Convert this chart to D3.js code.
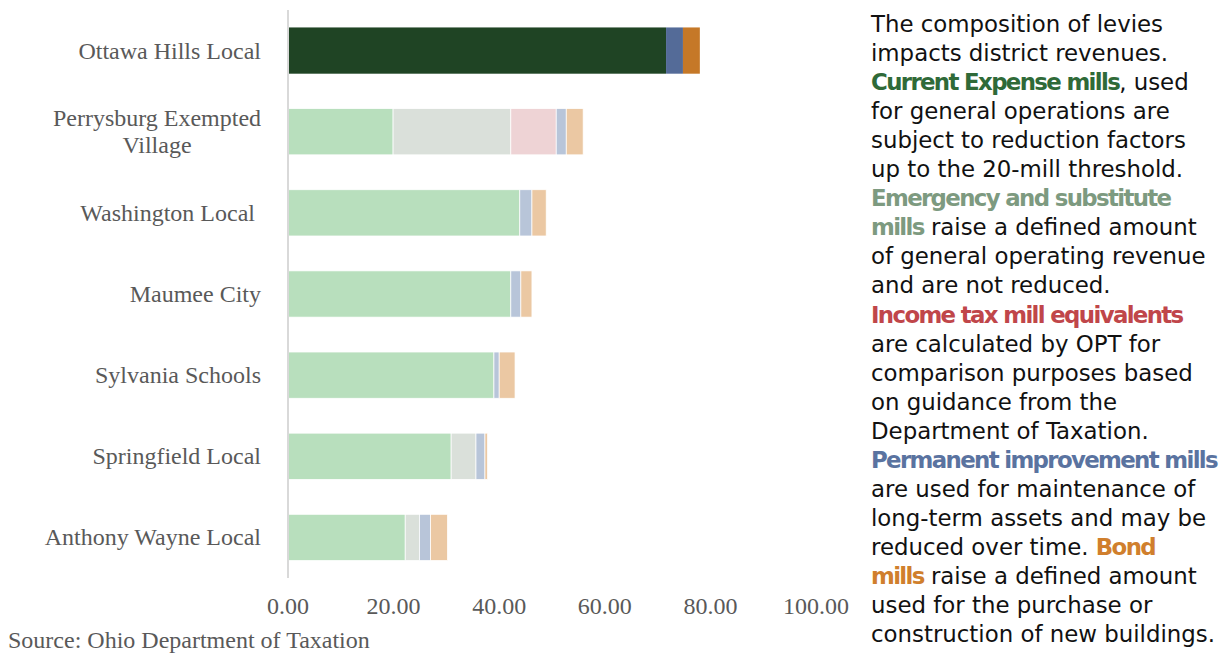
<!DOCTYPE html>
<html>
<head>
<meta charset="utf-8">
<script src="https://cdn.jsdelivr.net/npm/d3@7"></script>
<style>
  body { margin: 0; background: #fff; }
  svg text { white-space: pre; }
</style>
</head>
<body>
<div id="container"></div>
<script>
/* DATA */
const districts = ["Ottawa Hills Local", "Perrysburg Exempted Village", "Washington Local ", "Maumee City",
  "Sylvania Schools", "Springfield Local", "Anthony Wayne Local"]
const seriesNames = ["Current Expense", "Emergency and substitute", "Income tax equivalent", "Permanent improvement", "Bond"]
const currentExpense = [71.6, 19.9, 43.9, 42.2, 39.0, 30.9, 22.2]
const emergency      = [0, 22.3, 0, 0, 0, 4.7, 2.7]
const incomeTax      = [0, 8.6, 0, 0, 0, 0, 0]
const permanent      = [3.2, 1.9, 2.3, 1.9, 1.0, 1.7, 2.1]
const bond           = [3.2, 3.2, 2.7, 2.1, 3.0, 0.5, 3.2]
const xTicks = [0, 20, 40, 60, 80, 100]
const highlighted = "Ottawa Hills Local"

const strongColors = ["#1F4424", "#7D9A80", "#C0464A", "#546B98", "#C57828"]
const paleColors   = ["#B8DFBD", "#DAE0DA", "#EED3D5", "#B8C5D9", "#EBC8A3"]
const textColors   = ["#2F6A38", "#7D9A80", "#C0464A", "#5A73A0", "#D07F2D"]

// paragraph: each line is a list of [text, series index or -1]
const note = [
  [["The composition of levies", -1]],
  [["impacts district revenues.", -1]],
  [["Current Expense mills", 0], [", used", -1]],
  [["for general operations are", -1]],
  [["subject to reduction factors", -1]],
  [["up to the 20-mill threshold.", -1]],
  [["Emergency and substitute", 1]],
  [["mills", 1], [" raise a defined amount", -1]],
  [["of general operating revenue", -1]],
  [["and are not reduced.", -1]],
  [["Income tax mill equivalents", 2]],
  [["are calculated by OPT for", -1]],
  [["comparison purposes based", -1]],
  [["on guidance from the", -1]],
  [["Department of Taxation.", -1]],
  [["Permanent improvement mills", 3]],
  [["are used for maintenance of", -1]],
  [["long-term assets and may be", -1]],
  [["reduced over time. ", -1], ["Bond", 4]],
  [["mills", 4], [" raise a defined amount", -1]],
  [["used for the purchase or", -1]],
  [["construction of new buildings.", -1]]
]

/* CONSTANTS */
const width = 1225, height = 654
const x0 = 288, x1 = 816, yTop = 10, yBottom = 578

const rows = districts.map((d, i) => ({
  name: d,
  values: [currentExpense[i], emergency[i], incomeTax[i], permanent[i], bond[i]]
}))

const svg = d3.select("#container").append("svg")
  .attr("width", width)
  .attr("height", height)

// SCALES
const xScale = d3.scaleLinear().domain([0, 100]).range([x0, x1])
const yScale = d3.scaleBand().domain(districts).range([yTop, yBottom]).paddingInner(0.43).paddingOuter(0.215)

// BARS
const segs = []
rows.forEach(r => {
  let acc = 0
  r.values.forEach((v, k) => {
    segs.push({ name: r.name, k: k, start: acc, end: acc + v })
    acc += v
  })
})

svg.append("g").selectAll("rect")
  .data(segs.filter(s => s.end > s.start))
  .join("rect")
  .attr("x", d => xScale(d.start))
  .attr("y", d => yScale(d.name))
  .attr("width", d => xScale(d.end) - xScale(d.start))
  .attr("height", yScale.bandwidth())
  .attr("fill", d => d.name === highlighted ? strongColors[d.k] : paleColors[d.k])
  .attr("stroke", d => d.name === highlighted ? "none" : "#fff")
  .attr("stroke-width", 0.75)

// AXIS LINE
svg.append("line")
  .attr("x1", x0).attr("x2", x0)
  .attr("y1", yTop).attr("y2", yBottom)
  .attr("stroke", "#D9D9D9")
  .attr("stroke-width", 2)

// CATEGORY LABELS
const labelFont = "'Liberation Serif', 'Times New Roman', serif"
svg.append("g").selectAll("text")
  .data(districts)
  .join("text")
  .attr("font-family", labelFont)
  .attr("font-size", 24)
  .attr("fill", "#595959")
  .each(function(d) {
    const t = d3.select(this)
    const cy = yScale(d) + yScale.bandwidth() / 2
    if (d === "Perrysburg Exempted Village") {
      const lines = ["Perrysburg Exempted", "Village"]
      t.attr("text-anchor", "middle")
      lines.forEach((l, i) => {
        t.append("tspan").attr("x", 157).attr("y", cy - 13.5 + i * 27 + 8).text(l)
      })
    } else {
      t.attr("text-anchor", "end").attr("x", 261).attr("y", cy + 8).text(d)
    }
  })

// X TICK LABELS
svg.append("g").selectAll("text")
  .data(xTicks)
  .join("text")
  .attr("x", d => xScale(d))
  .attr("y", 614)
  .attr("text-anchor", "middle")
  .attr("font-family", labelFont)
  .attr("font-size", 24)
  .attr("fill", "#595959")
  .text(d => d3.format(".2f")(d))

// SOURCE
svg.append("text")
  .attr("x", 8).attr("y", 648)
  .attr("font-family", labelFont)
  .attr("font-size", 24)
  .attr("fill", "#595959")
  .text("Source: Ohio Department of Taxation")

// NOTE PARAGRAPH
const noteG = svg.append("g")
const noteText = noteG.selectAll("text")
  .data(note)
  .join("text")
  .attr("x", 871)
  .attr("y", (d, i) => 32 + i * 29.05)
  .attr("font-family", "'DejaVu Sans', sans-serif")
  .attr("font-size", 20)
  .attr("fill", "#111")
noteText.each(function(line) {
  d3.select(this).selectAll("tspan")
    .data(line)
    .join("tspan")
    .attr("class", d => d[1] >= 0 ? "hl" : "plain")
    .attr("font-weight", d => d[1] >= 0 ? "bold" : "normal")
    .attr("fill", d => d[1] >= 0 ? textColors[d[1]] : "#111")
    .text(d => d[0])
})
// fit the last (plain) line to the reference width
const nodes = noteText.nodes()
const fs = 20 * 344 / nodes[21].getComputedTextLength()
noteText.attr("font-size", fs)
// tighten the bold runs so the longest bold line fits too
const wBold = nodes[15].getComputedTextLength()
const ls = (346 - wBold) / note[15][0][0].length
noteG.selectAll("tspan.hl").attr("letter-spacing", ls)
</script>
</body>
</html>
